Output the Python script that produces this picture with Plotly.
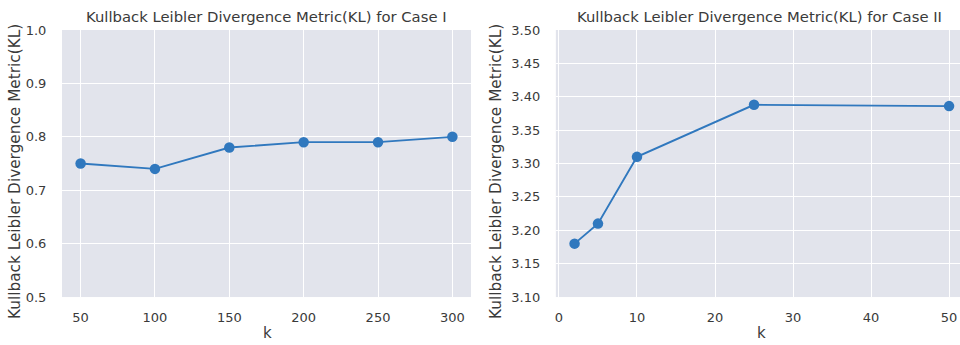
import plotly.graph_objects as go

k_case1 = [50, 100, 150, 200, 250, 300]
kl_case1 = [0.75, 0.74, 0.78, 0.79, 0.79, 0.80]
k_case2 = [2, 5, 10, 25, 50]
kl_case2 = [3.18, 3.21, 3.31, 3.388, 3.386]

title1 = "Kullback Leibler Divergence Metric(KL) for Case I"
title2 = "Kullback Leibler Divergence Metric(KL) for Case II"
ylab = "Kullback Leibler Divergence Metric(KL)"
xlab = "k"

LINE = "#3078BE"
BG = "#E2E4EC"
TXT = "#3a3a3a"
FONT = "DejaVu Sans"

fig = go.Figure()
fig.add_trace(go.Scatter(x=k_case1, y=kl_case1, mode="lines+markers",
                         line=dict(color=LINE, width=1.9),
                         marker=dict(color=LINE, size=10.5),
                         xaxis="x", yaxis="y", showlegend=False))
fig.add_trace(go.Scatter(x=k_case2, y=kl_case2, mode="lines+markers",
                         line=dict(color=LINE, width=1.9),
                         marker=dict(color=LINE, size=10.5),
                         xaxis="x2", yaxis="y2", showlegend=False))

ax_common = dict(showgrid=True, gridcolor="white", gridwidth=1.3, zeroline=False,
                 showline=False, ticks="outside", ticklen=0, automargin=False,
                 tickfont=dict(family=FONT, size=13, color=TXT))

fig.update_layout(
    width=960, height=345,
    margin=dict(l=0, r=0, t=0, b=0),
    paper_bgcolor="white", plot_bgcolor=BG,
    font=dict(family=FONT, color=TXT),
    xaxis=dict(domain=[0.0646, 0.4906], range=[37.5, 312.5],
               tickvals=[50, 100, 150, 200, 250, 300], anchor="y",
               ticklabelstandoff=8, **ax_common),
    yaxis=dict(domain=[0.139, 0.913], range=[0.5, 1.0],
               tickvals=[0.5, 0.6, 0.7, 0.8, 0.9, 1.0], tickformat=".1f",
               anchor="x", ticklabelstandoff=12, **ax_common),
    xaxis2=dict(domain=[0.579, 1.0], range=[-0.4, 51.4],
                tickvals=[0, 10, 20, 30, 40, 50], anchor="y2",
                ticklabelstandoff=8, **ax_common),
    yaxis2=dict(domain=[0.139, 0.913], range=[3.1, 3.5],
                tickvals=[3.1, 3.15, 3.2, 3.25, 3.3, 3.35, 3.4, 3.45, 3.5],
                tickformat=".2f", anchor="x2", ticklabelstandoff=12, **ax_common),
)

def A(text, x, y, size, angle=0):
    return dict(text=text, x=x / 960, y=1 - y / 345, xref="paper", yref="paper",
                xanchor="center", yanchor="middle", showarrow=False, textangle=angle,
                font=dict(family=FONT, size=size, color=TXT))

ann = [
    A(title1, 266, 16, 14.8),
    A(title2, 759, 16, 14.8),
    A(xlab, 267, 333, 15),
    A(xlab, 761, 333, 15),
    A(ylab, 15, 172, 15.3, -90),
    A(ylab, 496, 172, 15.3, -90),
]
fig.update_layout(annotations=ann)

fig.write_html("out.html")
